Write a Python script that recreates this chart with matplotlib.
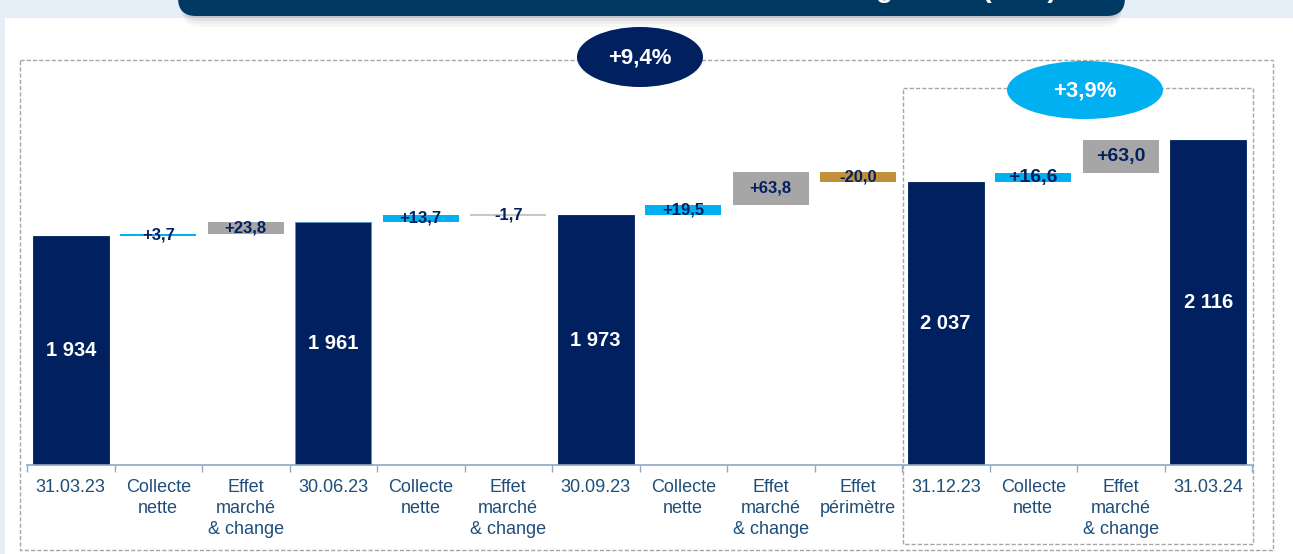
import matplotlib.pyplot as plt
from matplotlib.patches import FancyBboxPatch, Ellipse, Rectangle
import numpy as np

plt.rcParams['font.family'] = ['Liberation Sans', 'DejaVu Sans']
narrow = ['Liberation Sans Narrow', 'Liberation Sans', 'DejaVu Sans']

W, H = 1293, 554

categories = ['31.03.23', 'Collecte\nnette', 'Effet\nmarché\n& change',
              '30.06.23', 'Collecte\nnette', 'Effet\nmarché\n& change',
              '30.09.23', 'Collecte\nnette', 'Effet\nmarché\n& change', 'Effet\npérimètre',
              '31.12.23', 'Collecte\nnette', 'Effet\nmarché\n& change', '31.03.24']
kinds = ['total', 'collecte', 'marche', 'total', 'collecte', 'marche', 'total',
         'collecte', 'marche', 'perimetre', 'total', 'collecte', 'marche', 'total']
values = [1934, 3.7, 23.8, 1961, 13.7, -1.7, 1973, 19.5, 63.8, -20.0, 2037, 16.6, 63.0, 2116]
growth_labels = ['+9,4%', '+3,9%']

navy = '#002060'
colors = {'total': navy, 'collecte': '#00B0F0', 'marche': '#A6A6A6', 'perimetre': '#C0913A'}
y_min = 1500
y_max = 1500 + (465 - 60) / 0.5275

fig = plt.figure(figsize=(W / 100, H / 100), dpi=100)
fig.patch.set_facecolor('#E6EEF8')

# background overlay in pixel coordinates
bg = fig.add_axes([0, 0, 1, 1], zorder=0)
bg.set_xlim(0, W)
bg.set_ylim(H, 0)
bg.axis('off')
bg.add_patch(Rectangle((5, 18), W - 5, H - 18, facecolor='white', edgecolor='none'))
# banner shadow + banner
for i, a in enumerate([0.05, 0.05, 0.04, 0.03]):
    bg.add_patch(FancyBboxPatch((182, -40 + i), 940, 58 + i * 2, boxstyle='round,pad=0,rounding_size=18',
                                facecolor='black', edgecolor='none', alpha=a))
bg.add_patch(FancyBboxPatch((178, -40), 947, 56, boxstyle='round,pad=0,rounding_size=18',
                            facecolor='#003A63', edgecolor='none'))
bg.text(1057, -3, 'Évolution des encours sous gestion (Md€)', color='white', fontsize=20,
        fontweight='bold', ha='right', va='baseline')
bg.add_patch(Rectangle((20, 60), 1253, 490, fill=False, edgecolor='#A6A6A6', lw=1, ls=(0, (3, 1.5))))
bg.add_patch(Rectangle((903, 88), 350, 456, fill=False, edgecolor='#A6A6A6', lw=1, ls=(0, (3, 1.5))))

ax = fig.add_axes([27 / W, 1 - 465 / H, (1252 - 27) / W, (465 - 60) / H], zorder=1)
ax.set_facecolor('none')

x = np.arange(len(categories))
running = 0
for i, (k, v) in enumerate(zip(kinds, values)):
    if k == 'total':
        bottom, height = y_min, v - y_min
        running = v
        ax.bar(i, height, bottom=bottom, width=0.87, color=colors[k],
               edgecolor='#5B8FD0' if i == 3 else colors[k], lw=0.6)
        ax.text(i, bottom + height / 2, f'{v:,}'.replace(',', ' '), ha='center', va='center',
                color='white', fontsize=14.5, fontweight='bold')
    else:
        bottom = running
        height = v
        running += v
        if abs(v) > 2:
            ax.bar(i, height, bottom=bottom, width=0.87, color=colors[k], edgecolor='none')
        else:
            ax.hlines(bottom + height / 2, i - 0.435, i + 0.435, color='#C8C8C8', lw=1.5)
        lab = f'{v:+.1f}'.replace('.', ',')
        fs = 14 if i >= 11 else 12
        ax.text(i, bottom + height / 2, lab, ha='center', va='center',
                color=navy, fontsize=fs, fontweight='bold')

ax.set_xlim(-0.5, len(categories) - 0.5)
ax.set_ylim(y_min, y_max)
ax.set_xticks(x)
ax.set_xticklabels(categories, color='#1F4E79', fontsize=13, linespacing=1.3, family=narrow)
ax.set_xticks(np.arange(len(categories) + 1) - 0.5, minor=True)
ax.tick_params(axis='x', which='major', length=0, pad=10)
ax.tick_params(axis='x', which='minor', length=5, color='#8EA9C1', width=1)
ax.set_yticks([])
for s in ['left', 'right', 'top']:
    ax.spines[s].set_visible(False)
ax.spines['bottom'].set_color('#8EA9C1')
ax.spines['bottom'].set_linewidth(1.2)

# growth ellipses
fg = fig.add_axes([0, 0, 1, 1], zorder=2)
fg.set_xlim(0, W)
fg.set_ylim(H, 0)
fg.axis('off')
fg.patch.set_alpha(0)
fg.add_patch(Ellipse((640, 57), 126, 60, facecolor=navy, edgecolor='none'))
fg.text(640, 58, growth_labels[0], color='white', fontsize=16, fontweight='bold', ha='center', va='center')
fg.add_patch(Ellipse((1085, 90), 156, 58, facecolor='#00B0F0', edgecolor='none'))
fg.text(1085, 91, growth_labels[1], color='white', fontsize=16, fontweight='bold', ha='center', va='center')

fig.savefig('out.png', dpi=100)
